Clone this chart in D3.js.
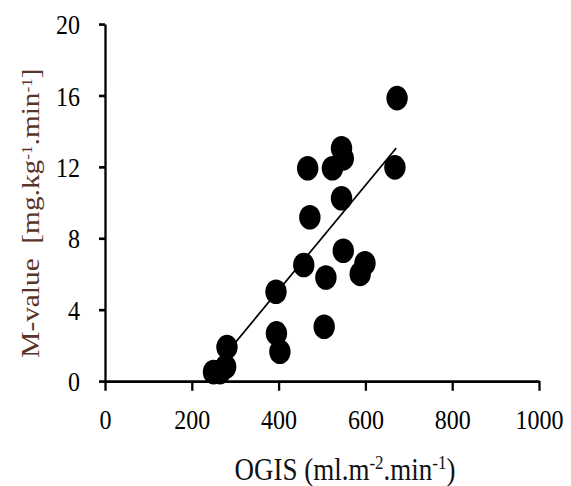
<!DOCTYPE html>
<html>
<head>
<meta charset="utf-8">
<script src="https://cdn.jsdelivr.net/npm/d3@7"></script>
<style>
  html, body { margin: 0; background: #fff; }
  svg { display: block; }
</style>
</head>
<body>
<svg id="chart"></svg>
<script>
// values
const ogis   = [673, 668, 545, 549, 524, 467, 545, 472, 458, 549, 599, 588, 509, 394, 395, 403, 505, 250, 265, 278, 281];
const mValue = [15.85, 11.97, 13.04, 12.47, 11.92, 11.92, 10.24, 9.17, 6.5, 7.3, 6.6, 6.0, 5.8, 5.0, 2.67, 1.64, 3.04, 0.5, 0.5, 0.8, 1.9];
const xTicks = [0, 200, 400, 600, 800, 1000];
const yTicks = [0, 4, 8, 12, 16, 20];
// fitted line as drawn (ends)
const trendX = [250, 671];
const trendY = [0.68, 13.04];

const W = 571, H = 486;
const stretch = 1.15; // the original picture is stretched vertically
const h = H / stretch;

const svg = d3.select("#chart")
    .attr("width", W)
    .attr("height", H)
    .attr("viewBox", `0 0 ${W} ${h}`)
    .attr("preserveAspectRatio", "none");

const x = d3.scaleLinear().domain([0, 1000]).range([105, 539]);
const y = d3.scaleLinear().domain([0, 20]).range([381 / stretch, 24 / stretch]);

const font = "'Liberation Serif', 'Times New Roman', serif";

// x axis
const gx = svg.append("g")
    .attr("transform", `translate(0,${y(0)})`)
    .call(d3.axisBottom(x).tickValues(xTicks).tickSize(8.5).tickSizeOuter(0).tickFormat(d3.format("d")));
gx.selectAll("text").attr("y", 373 - 381 / stretch).attr("dy", 0);

// y axis
const gy = svg.append("g")
    .attr("transform", `translate(${x(0)},0)`)
    .call(d3.axisLeft(y).tickValues(yTicks).tickSize(6).tickSizeOuter(0).tickPadding(19));
gy.selectAll("text").attr("dy", "0.35em");

svg.selectAll(".domain, .tick line").attr("stroke", "#000").attr("stroke-width", 2.3);
svg.selectAll(".tick text")
    .attr("fill", "#000")
    .style("font-family", font)
    .style("font-size", "24px");

// trend line
svg.append("line")
    .attr("x1", x(trendX[0])).attr("y1", y(trendY[0]))
    .attr("x2", x(trendX[1])).attr("y2", y(trendY[1]))
    .attr("stroke", "#000")
    .attr("stroke-width", 1.6);

// points
svg.append("g")
  .selectAll("circle")
  .data(ogis.map((v, i) => [v, mValue[i]]))
  .join("circle")
    .attr("cx", d => x(d[0]))
    .attr("cy", d => y(d[1]))
    .attr("r", 10.7)
    .attr("fill", "#000");

// axis titles
const xt = svg.append("text")
    .attr("x", 345)
    .attr("y", 480 / stretch)
    .attr("text-anchor", "middle")
    .style("font-family", font)
    .style("font-size", "27px")
    .attr("fill", "#111");
xt.append("tspan").text("OGIS (ml.m");
xt.append("tspan").attr("baseline-shift", "super").style("font-size", "17px").text("-2");
xt.append("tspan").text(".min");
xt.append("tspan").attr("baseline-shift", "super").style("font-size", "17px").text("-1");
xt.append("tspan").text(")");

const yt = svg.append("text")
    .attr("transform", `translate(39,${213 / stretch}) rotate(-90)`)
    .attr("text-anchor", "middle")
    .attr("xml:space", "preserve")
    .style("font-family", font)
    .style("font-size", "25.5px")
    .style("white-space", "pre")
    .attr("fill", "#5a3428");
yt.append("tspan").text("M-value  [mg.kg");
yt.append("tspan").attr("baseline-shift", "super").style("font-size", "15px").text("-1");
yt.append("tspan").text(".min");
yt.append("tspan").attr("baseline-shift", "super").style("font-size", "15px").text("-1");
yt.append("tspan").text("]");
</script>
</body>
</html>
